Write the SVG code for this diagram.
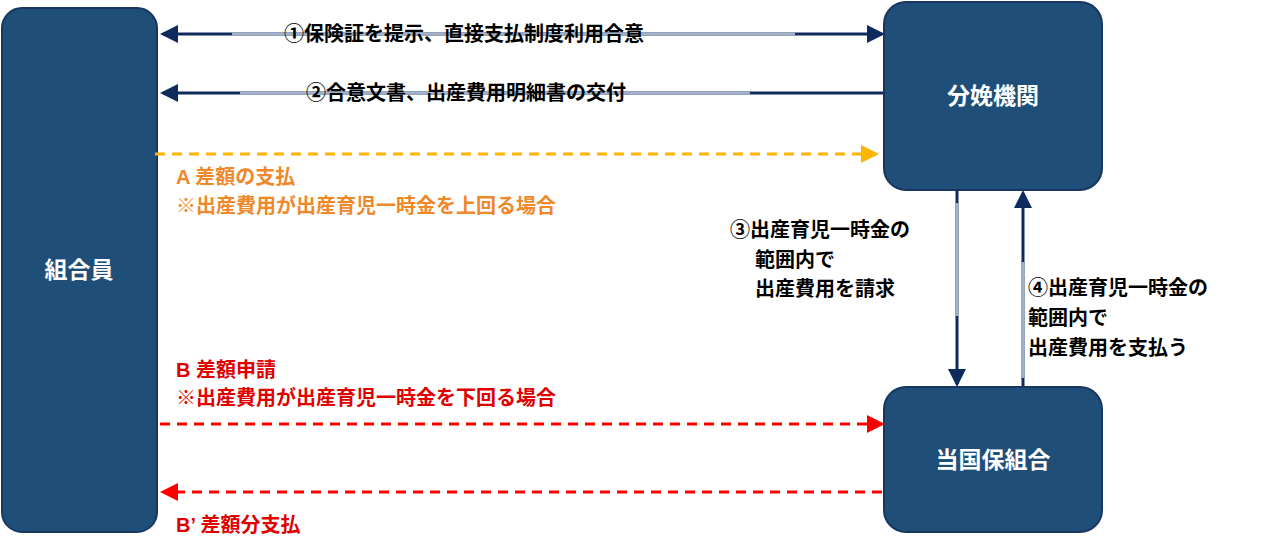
<svg xmlns="http://www.w3.org/2000/svg" width="1278" height="558" viewBox="0 0 1278 558">
<style>
.box{fill:#1f4e79;stroke:#17375e;stroke-width:2}
.nt{fill:#fff;font-family:"Liberation Sans","Noto Sans CJK JP",sans-serif;font-size:23px;font-weight:bold;text-anchor:middle}
.t{font-family:"Liberation Sans","Noto Sans CJK JP",sans-serif;font-size:20px;font-weight:bold;fill:#000}
.dk{stroke:#0f2a5c;stroke-width:3;fill:none}
.lt{stroke:#a3b1c8;stroke-width:3;fill:none}
.or{stroke:#ffb400;stroke-width:3;stroke-dasharray:10 7;fill:none}
.rd{stroke:#ff0000;stroke-width:3;stroke-dasharray:10 7;fill:none}
</style>
<defs>
<marker id="hd" markerWidth="6" markerHeight="6" refX="5" refY="3" orient="auto-start-reverse" markerUnits="strokeWidth"><path d="M0,0L6,3L0,6z" fill="#0f2a5c"/></marker>
<marker id="ho" markerWidth="6" markerHeight="6" refX="5" refY="3" orient="auto-start-reverse" markerUnits="strokeWidth"><path d="M0,0L6,3L0,6z" fill="#ffb400"/></marker>
<marker id="hr" markerWidth="6" markerHeight="6" refX="5" refY="3" orient="auto-start-reverse" markerUnits="strokeWidth"><path d="M0,0L6,3L0,6z" fill="#ff0000"/></marker>
</defs>
<rect width="1278" height="558" fill="#fff"/>
<g id="n-member"><rect class="box" x="2" y="8" width="155" height="524" rx="20"/><text class="nt" x="79" y="278">組合員</text></g>
<g id="n-hospital"><rect class="box" x="884" y="2" width="218" height="188" rx="22"/><text class="nt" x="993" y="104">分娩機関</text></g>
<g id="n-union"><rect class="box" x="884" y="387" width="218" height="145" rx="22"/><text class="nt" x="993" y="468">当国保組合</text></g>
<g id="connectors">
<line class="dk" x1="163" y1="34" x2="882" y2="34" marker-start="url(#hd)" marker-end="url(#hd)"/>
<line class="lt" x1="232" y1="34" x2="795" y2="34"/>
<line class="dk" x1="883" y1="93" x2="163" y2="93" marker-end="url(#hd)"/>
<line class="lt" x1="240" y1="93" x2="750" y2="93"/>
<line class="or" x1="155" y1="154" x2="876" y2="154" marker-end="url(#ho)"/>
<line class="rd" x1="160" y1="424" x2="882" y2="424" marker-end="url(#hr)"/>
<line class="rd" x1="882" y1="492" x2="163" y2="492" marker-end="url(#hr)"/>
<line class="dk" x1="957" y1="191" x2="957" y2="384" marker-end="url(#hd)"/>
<line class="lt" x1="957" y1="203" x2="957" y2="316"/>
<line class="dk" x1="1023" y1="386" x2="1023" y2="193" marker-end="url(#hd)"/>
<line class="lt" x1="1023" y1="262" x2="1023" y2="378"/>
</g>
<text class="t" x="284" y="41">①保険証を提示、直接支払制度利用合意</text>
<text class="t" x="306" y="100">②合意文書、出産費用明細書の交付</text>
<text class="t" x="176" y="184" fill="#f0882a" style="fill:#f0882a">A 差額の支払</text>
<text class="t" x="176" y="213" style="fill:#f0882a">※出産費用が出産育児一時金を上回る場合</text>
<text class="t" x="730" y="237">③出産育児一時金の</text>
<text class="t" x="755" y="267">範囲内で</text>
<text class="t" x="755" y="296">出産費用を請求</text>
<text class="t" x="1028" y="295">④出産育児一時金の</text>
<text class="t" x="1028" y="325">範囲内で</text>
<text class="t" x="1028" y="355">出産費用を支払う</text>
<text class="t" x="176" y="377" style="fill:#e00000">B 差額申請</text>
<text class="t" x="176" y="405" style="fill:#e00000">※出産費用が出産育児一時金を下回る場合</text>
<text class="t" x="176" y="532" style="fill:#e00000">B’ 差額分支払</text>
</svg>
